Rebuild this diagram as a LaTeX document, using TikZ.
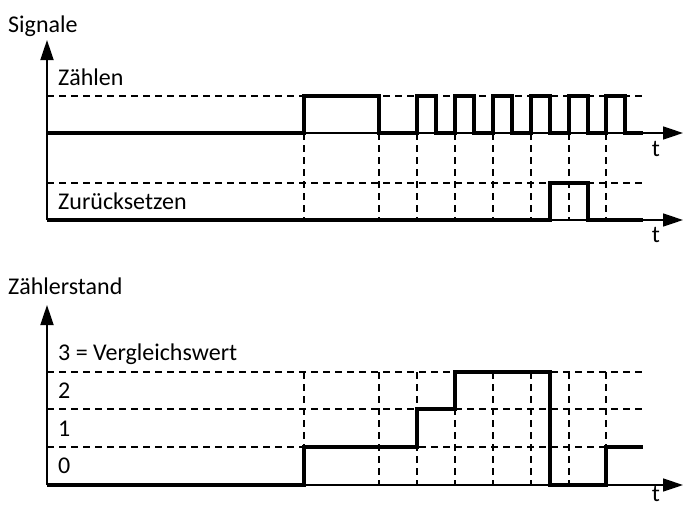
\documentclass[tikz,border=0pt]{standalone}
\usepackage{fontspec}
\setmainfont{Carlito}
\usetikzlibrary{arrows.meta}
\begin{document}
\begin{tikzpicture}[x=1pt,y=-1pt,
  axis/.style={line width=1.8pt,-{Triangle[length=20pt,width=13pt]}},
  taxis/.style={line width=1.5pt,-{Triangle[length=20pt,width=13pt]}},
  sig/.style={line width=3.5pt,line join=miter,line cap=butt},
  grid/.style={line width=1.2pt,dash pattern=on 7pt off 5pt},
  lbl/.style={anchor=base west,inner sep=0pt,font=\fontsize{24}{28}\selectfont},
  tlbl/.style={anchor=base,inner sep=0pt,font=\fontsize{24}{28}\selectfont}]
\useasboundingbox (0,0) rectangle (684,506);
% ---------- top panel ----------
\coordinate (O1) at (47,220);
\coordinate (Y1) at (47,40);
\coordinate (Za) at (47,133);
\coordinate (Zaend) at (683,133);
\coordinate (Rend) at (683,220);
\node[lbl] (signale) at (8,32) {Signale};
\node[lbl] (zaehlen) at (58,85) {Zählen};
\node[lbl] (zurueck) at (58,209) {Zurücksetzen};
\node[tlbl] (t1) at (656,156) {t};
\node[tlbl] (t2) at (656,242) {t};
% dashed levels
\draw[grid] (47,96) -- (643,96);
\draw[grid] (47,183) -- (643,183);
\foreach \x in {304,379,417,455,493,531,569,606}
  \draw[grid] (\x,133) -- (\x,220);
% axes
\draw[axis] (O1) -- (Y1);
\draw[taxis] (Za) -- (Zaend);
\draw[taxis] (O1) -- (Rend);
% Zählen signal
\draw[sig] (47,133) -- (304,133) -- (304,96) -- (379,96) -- (379,133)
  -- (417,133) -- (417,96) -- (436,96) -- (436,133)
  -- (455,133) -- (455,96) -- (474,96) -- (474,133)
  -- (493,133) -- (493,96) -- (512,96) -- (512,133)
  -- (531,133) -- (531,96) -- (550,96) -- (550,133)
  -- (569,133) -- (569,96) -- (588,96) -- (588,133)
  -- (606,133) -- (606,96) -- (625,96) -- (625,133) -- (643,133);
% Zurücksetzen signal
\draw[sig] (47,220) -- (550,220) -- (550,183) -- (588,183) -- (588,220) -- (643,220);
% ---------- bottom panel ----------
\coordinate (O2) at (47,485);
\coordinate (Y2) at (47,305);
\coordinate (Xend) at (683,485);
\node[lbl] (zstand) at (8,294) {Zählerstand};
\node[lbl] (l3) at (58,360) {3 = Vergleichswert};
\node[lbl] (l2) at (58,398) {2};
\node[lbl] (l1) at (58,436) {1};
\node[lbl] (l0) at (58,473) {0};
\node[tlbl] (t3) at (656,501) {t};
\draw[grid] (47,372) -- (643,372);
\draw[grid] (47,409) -- (643,409);
\draw[grid] (47,447) -- (643,447);
\draw[grid] (304,372) -- (304,447);
\foreach \x in {379,417,455,493,531,569,606}
  \draw[grid] (\x,372) -- (\x,485);
\draw[axis] (O2) -- (Y2);
\draw[taxis] (O2) -- (Xend);
\draw[sig] (47,485) -- (304,485) -- (304,447) -- (417,447) -- (417,409)
  -- (455,409) -- (455,372) -- (550,372) -- (550,485) -- (606,485)
  -- (606,447) -- (643,447);
\end{tikzpicture}
\end{document}
